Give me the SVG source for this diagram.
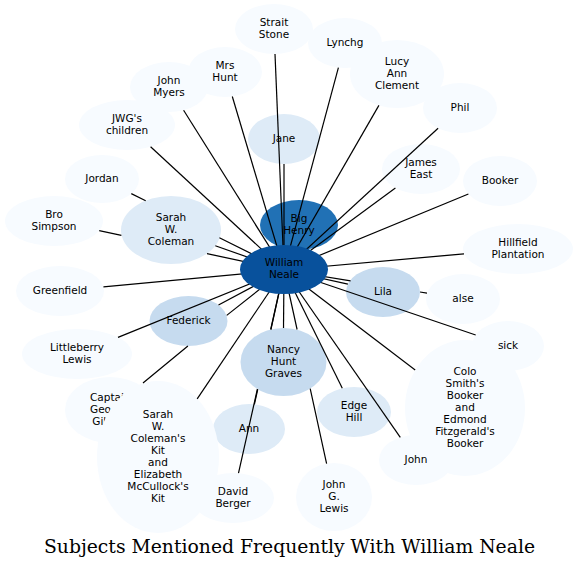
<svg xmlns="http://www.w3.org/2000/svg" width="579" height="569" viewBox="0 0 579 569">
<style>
.n text{font-family:"DejaVu Sans",sans-serif;font-size:10.5px;text-anchor:middle;fill:#000}
.c0{fill:#f7fbff}.c1{fill:#deebf7}.c2{fill:#c6dbef}.c3{fill:#2171b5}.c4{fill:#08519c}
#edges path{fill:none;stroke:#000;stroke-width:1.2}
.title{font-family:"DejaVu Serif",serif;font-size:18.8px;text-anchor:middle;fill:#000}
</style>
<rect width="579" height="569" fill="#fff"/>
<g id="n-strait" class="n"><ellipse class="c0" cx="274" cy="29" rx="39" ry="25"/><text x="274" y="25.8">Strait</text><text x="274" y="37.8">Stone</text></g>
<g id="n-lynchg" class="n"><ellipse class="c0" cx="345" cy="43" rx="37" ry="25"/><text x="345" y="45.8">Lynchg</text></g>
<g id="n-lucy" class="n"><ellipse class="c0" cx="397" cy="74" rx="47" ry="34"/><text x="397" y="64.8">Lucy</text><text x="397" y="76.8">Ann</text><text x="397" y="88.8">Clement</text></g>
<g id="n-phil" class="n"><ellipse class="c0" cx="460" cy="108" rx="37" ry="25"/><text x="460" y="110.8">Phil</text></g>
<g id="n-james" class="n"><ellipse class="c0" cx="421" cy="169" rx="39" ry="25"/><text x="421" y="165.8">James</text><text x="421" y="177.8">East</text></g>
<g id="n-booker" class="n"><ellipse class="c0" cx="500" cy="181" rx="37" ry="25"/><text x="500" y="183.8">Booker</text></g>
<g id="n-hillfield" class="n"><ellipse class="c0" cx="518" cy="249" rx="55" ry="25"/><text x="518" y="245.8">Hillfield</text><text x="518" y="257.8">Plantation</text></g>
<g id="n-alse" class="n"><ellipse class="c0" cx="463" cy="299" rx="37" ry="25"/><text x="463" y="301.8">alse</text></g>
<g id="n-lila" class="n"><ellipse class="c2" cx="383" cy="292" rx="37" ry="25"/><text x="383" y="294.8">Lila</text></g>
<g id="n-colo" class="n"><ellipse class="c0" cx="465" cy="408" rx="60" ry="68"/><text x="465" y="374.8">Colo</text><text x="465" y="386.8">Smith's</text><text x="465" y="398.8">Booker</text><text x="465" y="410.8">and</text><text x="465" y="422.8">Edmond</text><text x="465" y="434.8">Fitzgerald's</text><text x="465" y="446.8">Booker</text></g>
<g id="n-sick" class="n"><ellipse class="c0" cx="508" cy="346" rx="36" ry="25"/><text x="508" y="348.8">sick</text></g>
<g id="n-john" class="n"><ellipse class="c0" cx="416" cy="460" rx="37" ry="25"/><text x="416" y="462.8">John</text></g>
<g id="n-johnglewis" class="n"><ellipse class="c0" cx="334" cy="497" rx="38" ry="34"/><text x="334" y="487.8">John</text><text x="334" y="499.8">G.</text><text x="334" y="511.8">Lewis</text></g>
<g id="n-edgehill" class="n"><ellipse class="c1" cx="354" cy="412" rx="37" ry="25"/><text x="354" y="408.8">Edge</text><text x="354" y="420.8">Hill</text></g>
<g id="n-nancy" class="n"><ellipse class="c2" cx="283.5" cy="362" rx="43" ry="34"/><text x="283.5" y="352.8">Nancy</text><text x="283.5" y="364.8">Hunt</text><text x="283.5" y="376.8">Graves</text></g>
<g id="n-ann" class="n"><ellipse class="c1" cx="249" cy="429" rx="36" ry="25"/><text x="249" y="431.8">Ann</text></g>
<g id="n-david" class="n"><ellipse class="c0" cx="233" cy="498" rx="41" ry="25"/><text x="233" y="494.8">David</text><text x="233" y="506.8">Berger</text></g>
<g id="n-captain" class="n"><ellipse class="c0" cx="110" cy="410" rx="45" ry="33"/><text x="90" y="401.1" style="text-anchor:start">Captai</text><text x="90" y="413.1" style="text-anchor:start">Geo</text><text x="92.3" y="425.1" style="text-anchor:start">Gil</text></g>
<g id="n-kit" class="n"><ellipse class="c0" cx="158" cy="457" rx="61" ry="76"/><text x="158" y="417.8">Sarah</text><text x="158" y="429.8">W.</text><text x="158" y="441.8">Coleman's</text><text x="158" y="453.8">Kit</text><text x="158" y="465.8">and</text><text x="158" y="477.8">Elizabeth</text><text x="158" y="489.8">McCullock's</text><text x="158" y="501.8">Kit</text></g>
<g id="n-federick" class="n"><ellipse class="c2" cx="188.5" cy="321" rx="39" ry="25"/><text x="188.5" y="323.8">Federick</text></g>
<g id="n-littleberry" class="n"><ellipse class="c0" cx="77" cy="354" rx="55" ry="25"/><text x="77" y="350.8">Littleberry</text><text x="77" y="362.8">Lewis</text></g>
<g id="n-greenfield" class="n"><ellipse class="c0" cx="60" cy="291" rx="44" ry="25"/><text x="60" y="293.8">Greenfield</text></g>
<g id="n-bro" class="n"><ellipse class="c0" cx="54" cy="221" rx="49" ry="25"/><text x="54" y="217.8">Bro</text><text x="54" y="229.8">Simpson</text></g>
<g id="n-jordan" class="n"><ellipse class="c0" cx="102" cy="179" rx="37" ry="24"/><text x="102" y="181.8">Jordan</text></g>
<g id="n-coleman" class="n"><ellipse class="c1" cx="171" cy="230" rx="50" ry="34"/><text x="171" y="220.8">Sarah</text><text x="171" y="232.8">W.</text><text x="171" y="244.8">Coleman</text></g>
<g id="n-jwg" class="n"><ellipse class="c0" cx="127" cy="125" rx="48" ry="25"/><text x="127" y="121.8">JWG's</text><text x="127" y="133.8">children</text></g>
<g id="n-myers" class="n"><ellipse class="c0" cx="169" cy="87" rx="39" ry="25"/><text x="169" y="83.8">John</text><text x="169" y="95.8">Myers</text></g>
<g id="n-mrshunt" class="n"><ellipse class="c0" cx="225" cy="72" rx="37" ry="25"/><text x="225" y="68.8">Mrs</text><text x="225" y="80.8">Hunt</text></g>
<g id="n-jane" class="n"><ellipse class="c1" cx="284" cy="139" rx="36" ry="25"/><text x="284" y="141.8">Jane</text></g>
<g id="n-bighenry" class="n"><ellipse class="c3" cx="299" cy="225" rx="39" ry="25"/><text x="299" y="221.8">Big</text><text x="299" y="233.8">Henry</text></g>
<g id="edges">
<path d="M284 270L275 54"/>
<path d="M284 270L338.4 67.6"/>
<path d="M284 270L378.9 105.4"/>
<path d="M284 270L438.1 128.2"/>
<path d="M284 270L395.4 187.9"/>
<path d="M284 270L468.4 194"/>
<path d="M284 270L464 253.8"/>
<path d="M284 270L347.9 284.2"/>
<path d="M284 270L350.6 280.8M420 292L427 293.2"/>
<path d="M284 270L475.7 335"/>
<path d="M284 270L415.2 370"/>
<path d="M284 270L400.3 437.4"/>
<path d="M284 270L297.1 329.5M310.2 388.7L326.6 463.6"/>
<path d="M284 270L342.3 388.3"/>
<path d="M284 270L283.5 328"/>
<path d="M284 270L270.9 329.5M257.75 389.25L254.4 404.3"/>
<path d="M284 270L270.7 329.5M257.4 389L238.5 473.2"/>
<path d="M284 270L197.2 398.8"/>
<path d="M284 270L226.7 315.4M187.9 346L143 383"/>
<path d="M284 270L218.5 305"/>
<path d="M284 270L118 337.4"/>
<path d="M284 270L103.4 286.9"/>
<path d="M99.2 230.6L121.4 235.4M207 253.6L284 270"/>
<path d="M131.3 193.6L145.7 200.8M219.4 237.7L284 270"/>
<path d="M284 270L215.3 245.7"/>
<path d="M284 270L150.6 146.8"/>
<path d="M284 270L183.6 110.2"/>
<path d="M284 270L232.3 96.5"/>
<path d="M284 164L284 270"/>
<path d="M284 270L290.9 249.4"/>
</g>
<g id="n-william" class="n"><ellipse class="c4" cx="284" cy="269.5" rx="44" ry="24.5"/><text x="284" y="266.3">William</text><text x="284" y="278.3">Neale</text></g>
<text class="title" x="289.5" y="553">Subjects Mentioned Frequently With William Neale</text>
</svg>
